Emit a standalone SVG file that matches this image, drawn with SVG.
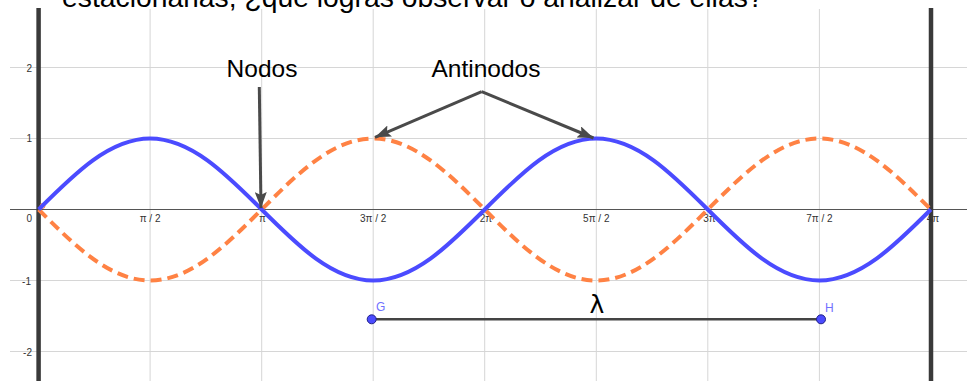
<svg xmlns="http://www.w3.org/2000/svg" width="967" height="381" viewBox="0 0 967 381">
<style>
.grid{stroke:#d6d6d6;stroke-width:1;fill:none}
.axis{stroke:#555;stroke-width:1.2;fill:none}
.thick{stroke:#3a3a3a;stroke-width:4.5;fill:none}
.tick{font-family:"Liberation Sans",Arial,sans-serif;font-size:10px;fill:#333}
.lbl{font-family:"Liberation Sans",Arial,sans-serif;font-size:24.5px;fill:#000}
.arr{stroke:#4a4a4a;stroke-width:3;fill:none}
.blue{stroke:#4b4bff;stroke-width:4;fill:none}
.orange{stroke:#ff8244;stroke-width:4;fill:none;stroke-dasharray:11 6}
</style>
<defs>
<marker id="ah" markerUnits="userSpaceOnUse" markerWidth="17" markerHeight="12" refX="16" refY="6" orient="auto">
<path d="M0,0 L16,6 L0,12 L3,6 z" fill="#4a4a4a"/>
</marker>
</defs>
<rect width="967" height="381" fill="#fff"/>
<g id="grid">
<path class="grid" d="M10,67.5H967 M10,138.5H967 M10,280.5H967 M10,351.5H967"/>
<path class="grid" d="M150.1,9V381 M261.7,9V381 M373.2,9V381 M484.7,9V381 M596.3,9V381 M707.8,9V381 M819.4,9V381"/>
<path class="axis" d="M10,209.5H967"/>
<path class="thick" d="M38.6,8V381 M931,8V381"/>
</g>
<g id="ticks" class="tick">
<text x="32" y="71.5" text-anchor="end">2</text>
<text x="32" y="142" text-anchor="end">1</text>
<text x="32" y="222" text-anchor="end">0</text>
<text x="31" y="285" text-anchor="end">-1</text>
<text x="32" y="356" text-anchor="end">-2</text>
<text x="150.1" y="222" text-anchor="middle">π / 2</text>
<text x="262.5" y="222" text-anchor="middle">π</text>
<text x="373.2" y="222" text-anchor="middle">3π / 2</text>
<text x="486" y="222" text-anchor="middle">2π</text>
<text x="596.3" y="222" text-anchor="middle">5π / 2</text>
<text x="709.5" y="222" text-anchor="middle">3π</text>
<text x="819.4" y="222" text-anchor="middle">7π / 2</text>
<text x="933" y="222" text-anchor="middle">4π</text>
</g>
<text x="62" y="7" font-family="Liberation Sans, Arial, sans-serif" font-size="28.3" fill="#000">estacionarias, ¿qué logras observar o analizar de ellas?</text>
<g id="orange-wave">
<path class="orange" d="M38.6,209.5 c36.37,36.37 71.16,71 111.53,71 c40.37,0 75.16,-34.63 111.53,-71 c36.37,-36.37 71.16,-71 111.53,-71 c40.37,0 75.16,34.63 111.53,71 c36.37,36.37 71.16,71 111.53,71 c40.37,0 75.16,-34.63 111.53,-71 c36.37,-36.37 71.16,-71 111.53,-71 c40.37,0 75.16,34.63 111.53,71"/>
<circle cx="42.5" cy="206" r="2.5" fill="none" stroke="#ff8244" stroke-width="1"/>
</g>
<g id="blue-wave">
<path class="blue" d="M38.6,209.5 c36.37,-36.37 71.16,-71 111.53,-71 c40.37,0 75.16,34.63 111.53,71 c36.37,36.37 71.16,71 111.53,71 c40.37,0 75.16,-34.63 111.53,-71 c36.37,-36.37 71.16,-71 111.53,-71 c40.37,0 75.16,34.63 111.53,71 c36.37,36.37 71.16,71 111.53,71 c40.37,0 75.16,-34.63 111.53,-71"/>
</g>
<g id="nodos">
<text class="lbl" x="262" y="77" text-anchor="middle">Nodos</text>
</g>
<g id="antinodos">
<text class="lbl" x="486" y="77" text-anchor="middle">Antinodos</text>
</g>
<g id="connectors">
<line class="arr" x1="259.3" y1="87" x2="261" y2="208" marker-end="url(#ah)"/>
<line class="arr" x1="481.7" y1="91.7" x2="375" y2="137.3" marker-end="url(#ah)"/>
<line class="arr" x1="481.7" y1="91.7" x2="593.5" y2="138" marker-end="url(#ah)"/>
</g>
<g id="lambda">
<line x1="371.7" y1="319.3" x2="821" y2="319.3" stroke="#444" stroke-width="2.5"/>
<text x="597" y="313" text-anchor="middle" font-family="DejaVu Sans, sans-serif" font-size="25" fill="#000">λ</text>
</g>
<g id="G">
<circle cx="371.7" cy="319.3" r="4.5" fill="#4b4bff" stroke="#222288" stroke-width="1"/>
<text x="376" y="311" font-family="Liberation Sans, Arial, sans-serif" font-size="12" fill="#7070ff">G</text>
</g>
<g id="H">
<circle cx="821" cy="319.3" r="4.5" fill="#4b4bff" stroke="#222288" stroke-width="1"/>
<text x="825" y="311.5" font-family="Liberation Sans, Arial, sans-serif" font-size="12" fill="#7070ff">H</text>
</g>
</svg>
